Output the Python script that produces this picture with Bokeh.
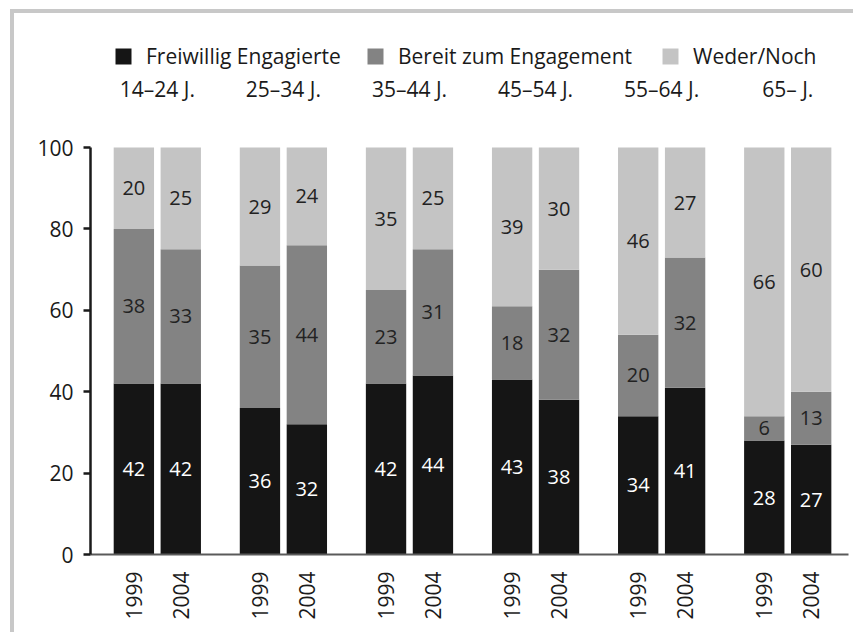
from bokeh.plotting import figure
from bokeh.models import (ColumnDataSource, Range1d, FixedTicker,
                          Legend, LegendItem)
from bokeh.core.properties import value
from bokeh.embed import file_html
from bokeh.resources import INLINE
from math import pi

# ---- data ----
groups = ["14–24 J.", "25–34 J.", "35–44 J.", "45–54 J.", "55–64 J.", "65– J."]
years = ["1999", "2004"]
series = ["Freiwillig Engagierte", "Bereit zum Engagement", "Weder/Noch"]
engaged = [42, 42, 36, 32, 42, 44, 43, 38, 34, 41, 28, 27]
ready = [38, 33, 35, 44, 23, 31, 18, 32, 20, 32, 6, 13]
neither = [20, 25, 29, 24, 35, 25, 39, 30, 46, 27, 66, 60]
y_ticks = [0, 20, 40, 60, 80, 100]

colors = ["#151515", "#838383", "#c4c4c4"]
FONT = "Open Sans"

# layout of categorical positions (group step, bar step within group)
GSTEP, BSTEP = 250, 93
xs, year_lab = [], []
for i, g in enumerate(groups):
    for j, yv in enumerate(years):
        xs.append(i * GSTEP + j * BSTEP)
        year_lab.append(yv)
gx = [i * GSTEP + BSTEP / 2 for i in range(len(groups))]

src = ColumnDataSource(dict(x=xs, eng=engaged, rdy=ready, nei=neither))

p = figure(width=843, height=623,
           x_range=Range1d(-86, (len(groups) - 1) * GSTEP + BSTEP + 74),
           y_range=Range1d(0, 130),
           output_backend="svg", toolbar_location=None,
           min_border_left=76, min_border_right=9, min_border_top=12,
           min_border_bottom=82)
p.styles = {"border-left": "4px solid #c8c8c8", "border-top": "4px solid #c8c8c8",
            "margin-left": "10px", "margin-top": "9px"}
p.outline_line_color = None
p.xgrid.grid_line_color = None
p.ygrid.grid_line_color = None

rs = p.vbar_stack(["eng", "rdy", "nei"], x="x", width=80, source=src,
                  color=colors, line_color=None)

# value labels (centred in each segment)
lx, ly, lt, lc = [], [], [], []
for i, xv in enumerate(xs):
    vals = [engaged[i], ready[i], neither[i]]
    base = 0
    for k, v in enumerate(vals):
        lx.append(xv)
        ly.append(base + v / 2)
        lt.append(str(v))
        lc.append("#ffffff" if k == 0 else "#222222")
        base += v
p.text(x=lx, y=ly, text=lt, text_color=lc, text_align="center",
       text_baseline="middle", text_font=value(FONT), text_font_size="20px")

# group labels on top
p.text(x=gx, y=[114.5] * len(groups), text=groups, text_align="center",
       text_baseline="middle", text_font=value(FONT), text_font_size="21px",
       text_color="#1a1a1a")

# axes
ya = p.yaxis[0]
ya.ticker = FixedTicker(ticks=y_ticks)
ya.bounds = (0, 100)
ya.axis_line_width = 2.5
ya.axis_line_color = "#1a1a1a"
ya.major_tick_out = 7
ya.major_tick_in = 0
ya.major_tick_line_width = 2.5
ya.major_tick_line_color = "#1a1a1a"
ya.minor_tick_line_color = None
ya.major_label_standoff = 10
ya.major_label_text_font = FONT
ya.major_label_text_font_size = "21px"
ya.major_label_text_color = "#1a1a1a"

xa = p.xaxis[0]
xa.ticker = FixedTicker(ticks=xs)
xa.major_label_overrides = {xv: yl for xv, yl in zip(xs, year_lab)}
xa.axis_line_color = "#5a5a5a"
xa.axis_line_width = 2
xa.major_tick_line_color = None
xa.minor_tick_line_color = None
xa.major_label_orientation = pi / 2
xa.major_label_standoff = 11
xa.major_label_text_font = FONT
xa.major_label_text_font_size = "21px"
xa.major_label_text_color = "#1a1a1a"

# legends, one per item
offsets = [23, 275, 570]
for r, name, off in zip(rs, series, offsets):
    lg = Legend(items=[LegendItem(label=name, renderers=[r])],
                location=(off, 484), orientation="horizontal",
                padding=0, margin=0, border_line_color=None,
                background_fill_alpha=0, glyph_width=20, glyph_height=20,
                label_standoff=13, label_text_font=FONT,
                label_text_font_size="21px", label_text_color="#1a1a1a")
    p.add_layout(lg, "center")

open("out.html", "w").write(file_html(p, INLINE))
